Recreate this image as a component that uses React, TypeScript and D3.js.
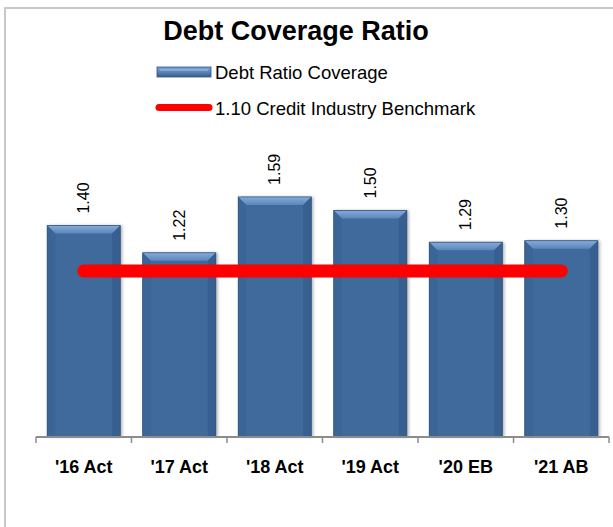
import * as d3 from 'd3'

const categories = ["'16 Act", "'17 Act", "'18 Act", "'19 Act", "'20 EB", "'21 AB"]
const coverage = [1.4, 1.22, 1.59, 1.5, 1.29, 1.3]
const benchmark = [1.1, 1.1, 1.1, 1.1, 1.1, 1.1]
const seriesNames = ['Debt Ratio Coverage', '1.10 Credit Industry Benchmark']

const W = 613
const H = 527
const margin = { top: 135, right: 4, bottom: 90, left: 36 }
const FONT = 'Liberation Sans, Arial, sans-serif'

export default function App() {
  const x = d3
    .scaleBand<string>()
    .domain(categories)
    .range([margin.left, W - margin.right])
    .paddingInner(0.235)
    .paddingOuter(0.117)

  const y = d3
    .scaleLinear()
    .domain([0, 2])
    .range([H - margin.bottom, margin.top])

  const base = y(0)
  const bw = x.bandwidth()
  const bevel = 8

  const line = d3
    .line<number>()
    .x((_, i) => x(categories[i])! + bw / 2)
    .y(d => y(d))

  // tick marks sit on the band boundaries
  const step = x.step()
  const start = x(categories[0])! - (step - bw) / 2
  const ticks = d3.range(categories.length + 1).map(i => start + i * step)

  return (
    <div style={{ position: 'absolute', left: 0, top: 0 }}>
      <svg width={W} height={H} style={{ display: 'block', fontFamily: FONT }}>
        <defs>
          <linearGradient id="barBody" x1="0" x2="1" y1="0" y2="0">
            <stop offset="0" stopColor="#3a6394" />
            <stop offset="0.12" stopColor="#3f699c" />
            <stop offset="0.88" stopColor="#3f699c" />
            <stop offset="1" stopColor="#3a6394" />
          </linearGradient>
          <linearGradient id="barTop" x1="0" x2="0" y1="0" y2="1">
            <stop offset="0" stopColor="#86abd9" />
            <stop offset="1" stopColor="#5b86bb" />
          </linearGradient>
          <linearGradient id="legendFill" x1="0" x2="0" y1="0" y2="1">
            <stop offset="0" stopColor="#7fa5d4" />
            <stop offset="0.5" stopColor="#5a84b8" />
            <stop offset="1" stopColor="#355d8c" />
          </linearGradient>
          <filter id="shadow" x="-10%" y="-10%" width="130%" height="120%">
            <feDropShadow dx="2" dy="0" stdDeviation="1.5" floodColor="#000" floodOpacity="0.3" />
          </filter>
        </defs>

        <rect x={0} y={0} width={W} height={H} fill="#fff" />
        {/* outer frame */}
        <path d={`M5,${H} V8 H${W}`} fill="none" stroke="#c8c8c8" strokeWidth={2} />

        <text x={296} y={40} textAnchor="middle" fontSize={27} fontWeight="bold" fill="#000">
          Debt Coverage Ratio
        </text>

        {/* legend */}
        <g>
          <rect x={157} y={67} width={54} height={10} fill="url(#legendFill)" stroke="#2f5380" strokeWidth={0.8} />
          <line x1={160} x2={208} y1={70} y2={70} stroke="#a9c4e6" strokeWidth={1} />
          <text x={215} y={78.5} fontSize={18.5} fill="#000">{seriesNames[0]}</text>
          <line x1={159} x2={209} y1={107.5} y2={107.5} stroke="#ff0000" strokeWidth={7} strokeLinecap="round" />
          <text x={215} y={114.5} fontSize={18.5} fill="#000">{seriesNames[1]}</text>
        </g>

        {/* bars */}
        {coverage.map((v, i) => {
          const bx = x(categories[i])!
          const by = y(v)
          const h = base - by
          return (
            <g key={categories[i]}>
              <rect x={bx} y={by} width={bw} height={h} fill="url(#barBody)" filter="url(#shadow)" />
              <polygon
                points={`${bx},${by} ${bx + bw},${by} ${bx + bw - bevel},${by + bevel} ${bx + bevel},${by + bevel}`}
                fill="url(#barTop)"
              />
              <polygon
                points={`${bx},${by} ${bx + bevel},${by + bevel} ${bx + bevel},${base} ${bx},${base}`}
                fill="#3b6597"
              />
              <polygon
                points={`${bx + bw},${by} ${bx + bw - bevel},${by + bevel} ${bx + bw - bevel},${base} ${bx + bw},${base}`}
                fill="#375f8f"
              />
              <rect x={bx} y={by} width={bw} height={h} fill="none" stroke="#2f5482" strokeWidth={0.8} />
              <text
                transform={`translate(${bx + bw / 2},${by - 12}) rotate(-90)`}
                dy="0.35em"
                fontSize={16}
                fill="#000"
              >
                {v.toFixed(2)}
              </text>
            </g>
          )
        })}

        {/* benchmark line */}
        <path d={line(benchmark) ?? ''} fill="none" stroke="#ff0000" strokeWidth={13} strokeLinecap="round" />

        {/* x axis */}
        <g>
          <line x1={ticks[0]} x2={ticks[ticks.length - 1]} y1={base} y2={base} stroke="#8c8c8c" strokeWidth={2} />
          {ticks.map((t, i) => (
            <line key={i} x1={t} x2={t} y1={base} y2={base + 6} stroke="#8c8c8c" strokeWidth={1.5} />
          ))}
          {categories.map(c => (
            <text
              key={c}
              x={x(c)! + bw / 2}
              y={base + 36}
              textAnchor="middle"
              fontSize={18}
              fontWeight="bold"
              fill="#000"
            >
              {c}
            </text>
          ))}
        </g>
      </svg>
    </div>
  )
}
